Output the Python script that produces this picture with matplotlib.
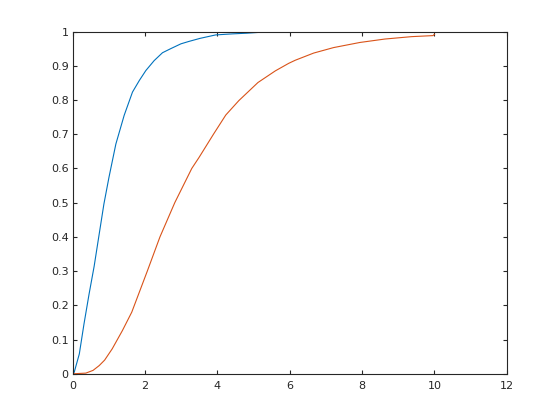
import numpy as np
import matplotlib
matplotlib.use("Agg")
import matplotlib.pyplot as plt

# values
blue_x = [0, 0.04, 0.18, 0.31, 0.45, 0.59, 0.71, 0.86, 1.0, 1.19, 1.42,
          1.65, 1.84, 2.02, 2.25, 2.48, 2.71, 2.99, 3.21, 3.52, 3.95, 4.4, 4.8,
          5.23, 6.0, 8.0, 9.96, 10.0]
blue_y = [0, 0.005, 0.058, 0.146, 0.233, 0.314, 0.395, 0.496, 0.574, 0.671,
          0.755, 0.823, 0.857, 0.886, 0.915, 0.938, 0.95, 0.964, 0.971, 0.98, 0.99,
          0.993, 0.995, 0.998, 0.998, 0.998, 0.998, 1.0]

red_x = [0, 0.36, 0.56, 0.73, 0.88, 1.09, 1.37, 1.63, 2.06, 2.41, 2.82,
         3.29, 3.49, 3.89, 4.23, 4.59, 5.12, 5.6, 5.97, 6.15, 6.66, 7.21, 7.94,
         8.63, 9.37, 9.96, 10.0]
red_y = [0, 0.002, 0.01, 0.024, 0.04, 0.073, 0.126, 0.18, 0.3, 0.4, 0.5,
         0.6, 0.632, 0.7, 0.756, 0.798, 0.851, 0.885, 0.907, 0.916, 0.937, 0.953,
         0.968, 0.978, 0.985, 0.988, 0.992]

x_ticks = [0, 2, 4, 6, 8, 10, 12]
y_ticks = [0, 0.1, 0.2, 0.3, 0.4, 0.5, 0.6, 0.7, 0.8, 0.9, 1]
y_labels = ["0", "0.1", "0.2", "0.3", "0.4", "0.5", "0.6", "0.7", "0.8", "0.9", "1"]

dark = (0.15, 0.15, 0.15)

fig = plt.figure(figsize=(5.6, 4.2), dpi=100)
ax = fig.add_axes([0.13, 0.11, 0.775, 0.815])

ax.plot(blue_x, blue_y, color="#0072BD", lw=0.8)
ax.plot(red_x, red_y, color="#D95319", lw=0.8)

ax.set_xlim(0, 12)
ax.set_ylim(0, 1)
ax.set_xticks(x_ticks)
ax.set_yticks(y_ticks)
ax.set_yticklabels(y_labels)

for s in ax.spines.values():
    s.set_color(dark)
    s.set_linewidth(0.8)
ax.tick_params(direction="in", length=3, width=0.8, colors=dark, labelsize=8,
               top=True, right=True)
ax.tick_params(axis="x", pad=5)
ax.tick_params(axis="y", pad=3)

plt.savefig("out.png", dpi=100)
